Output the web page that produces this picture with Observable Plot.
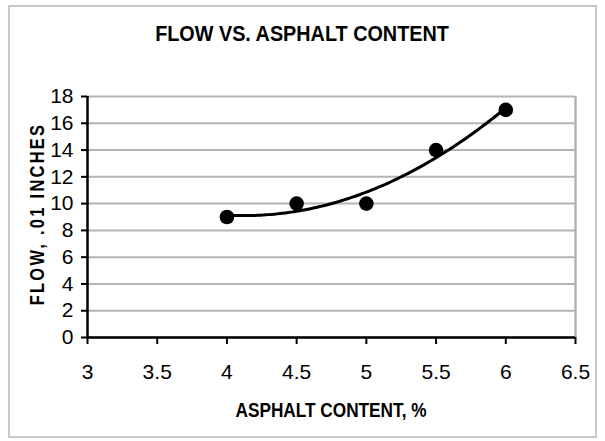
<!DOCTYPE html>
<html><head><meta charset="utf-8">
<script src="https://cdn.jsdelivr.net/npm/d3@7"></script>
<script src="https://cdn.jsdelivr.net/npm/@observablehq/plot@0.6"></script>
<style>
body{margin:0;background:#fff;}
#wrap{position:relative;width:605px;height:441px;overflow:hidden;font-family:'Liberation Sans',Arial,sans-serif;color:#000;}
#border{position:absolute;left:8px;top:5px;width:585px;height:429px;border:2px solid #c8c8c8;}
#chart{position:absolute;left:0;top:0;}
.lbl{position:absolute;white-space:nowrap;font-weight:bold;line-height:1;}
#title{left:302px;top:23px;font-size:22px;transform:translateX(-50%) scaleX(0.9);}
#xlabel{left:331px;top:399px;font-size:21px;transform:translateX(-50%) scaleX(0.82);}
#ylabel{left:37px;top:214px;font-size:20px;letter-spacing:2.8px;transform:translate(-50%,-50%) rotate(-90deg) scaleX(0.82);}
</style></head><body>
<div id="wrap"><div id="border"></div><div id="chart"></div>
<div class="lbl" id="title"></div><div class="lbl" id="xlabel"></div><div class="lbl" id="ylabel"></div></div>
<script>
const asphalt = [4, 4.5, 5, 5.5, 6];
const flow = [9, 10, 10, 14, 17];
const xTicks = [3, 3.5, 4, 4.5, 5, 5.5, 6, 6.5];
const yTicks = [0, 2, 4, 6, 8, 10, 12, 14, 16, 18];
const title = "FLOW VS. ASPHALT CONTENT";
const xLabel = "ASPHALT CONTENT, %";
const yLabel = "FLOW, .01 INCHES";

document.getElementById("title").textContent = title;
document.getElementById("xlabel").textContent = xLabel;
document.getElementById("ylabel").textContent = yLabel;

const data = asphalt.map((x, i) => ({x, y: flow[i]}));

// 2nd-order polynomial least-squares trendline from the data
function polyFit2(xs, ys) {
  let S = [0,0,0,0,0], T = [0,0,0];
  xs.forEach((x, i) => { for (let k=0;k<5;k++) S[k]+=x**k; for (let k=0;k<3;k++) T[k]+=ys[i]*x**k; });
  const A = [[S[0],S[1],S[2],T[0]],[S[1],S[2],S[3],T[1]],[S[2],S[3],S[4],T[2]]];
  for (let i=0;i<3;i++){ for (let j=i+1;j<3;j++){ const f=A[j][i]/A[i][i]; for(let k=i;k<4;k++) A[j][k]-=f*A[i][k]; } }
  const c=[0,0,0];
  for (let i=2;i>=0;i--){ let s=A[i][3]; for(let k=i+1;k<3;k++) s-=A[i][k]*c[k]; c[i]=s/A[i][i]; }
  return x => c[0]+c[1]*x+c[2]*x*x;
}
const f = polyFit2(asphalt, flow);
const [x0, x1] = d3.extent(asphalt);
const trend = d3.range(0, 101).map(i => { const x = x0 + (x1 - x0) * i / 100; return {x, y: f(x)}; });

const plot = Plot.plot({
  width: 605, height: 441,
  marginLeft: 87, marginRight: 30, marginTop: 96, marginBottom: 104,
  style: {fontFamily: "'Liberation Sans', Arial, sans-serif", color: "#000", background: "transparent", overflow: "visible"},
  x: {domain: [3, 6.5], ticks: xTicks},
  y: {domain: [0, 18], ticks: yTicks},
  marks: [
    Plot.gridY(yTicks, {stroke: "#b4b4b4", strokeOpacity: 1, strokeWidth: 2}),
    Plot.ruleX([6.5], {stroke: "#b4b4b4", strokeWidth: 2.5}),
    Plot.axisX(xTicks, {tickSize: 7, strokeWidth: 2, label: null, tickFormat: () => ""}),
    Plot.axisY(yTicks, {tickSize: 6, strokeWidth: 2, label: null, tickFormat: () => ""}),
    Plot.text(xTicks, {x: d => d, frameAnchor: "bottom", lineAnchor: "top", dy: 27, text: d => String(d), fontSize: 21, fill: "#000", ariaLabel: "xticklabels"}),
    Plot.text(yTicks, {y: d => d, frameAnchor: "left", textAnchor: "end", dx: -14, text: d => String(d), fontSize: 21, fill: "#000", ariaLabel: "yticklabels"}),
    Plot.ruleY([0], {stroke: "#000", strokeWidth: 2.5}),
    Plot.ruleX([3], {stroke: "#000", strokeWidth: 2.5}),
    Plot.line(trend, {x: "x", y: "y", stroke: "#000", strokeWidth: 3}),
    Plot.dot(data, {x: "x", y: "y", r: 7.3, fill: "#000", stroke: "none"})
  ]
});
// narrow the tick labels (reference uses a condensed sans face)
d3.select(plot).selectAll('g[aria-label="xticklabels"] text, g[aria-label="yticklabels"] text').each(function() {
  const x = +this.getAttribute("x") || 0, y = +this.getAttribute("y") || 0;
  const t = this.getAttribute("transform") || "";
  this.removeAttribute("x"); this.removeAttribute("y");
  this.setAttribute("transform", `${t} translate(${x},${y}) scale(0.82,1)`);
});
document.getElementById("chart").appendChild(plot);
</script>
</body></html>
